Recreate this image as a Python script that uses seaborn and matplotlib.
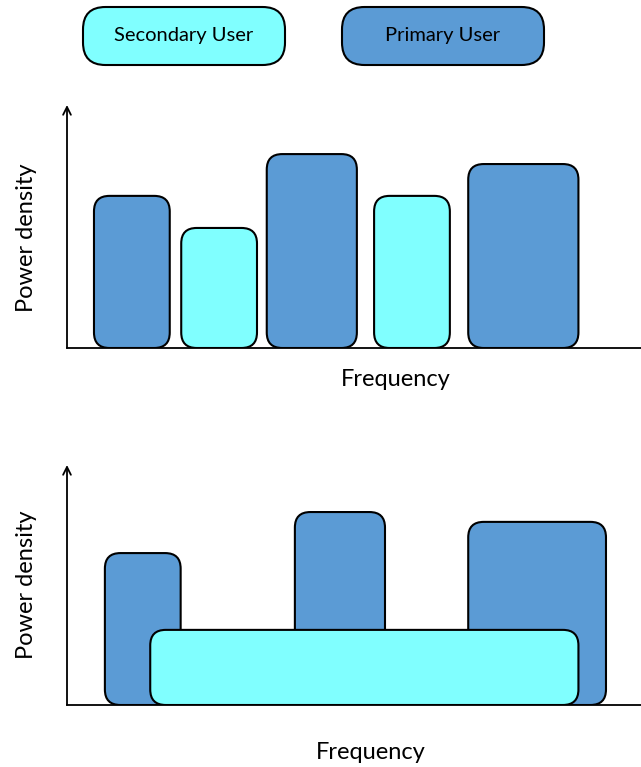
import matplotlib
matplotlib.use("Agg")
import matplotlib.pyplot as plt
import seaborn as sns
from matplotlib.patches import FancyBboxPatch

# Data: (frequency start, width, power density) per user block
PRIMARY_COLOR = "#5B9BD5"
SECONDARY_COLOR = "#80FFFF"

legend_labels = ["Secondary User", "Primary User"]

# top panel: users side by side
top_users = ["primary", "secondary", "primary", "secondary", "primary"]
top_start = [4.7, 19.9, 34.8, 53.5, 69.9]
top_width = [13.2, 13.2, 15.7, 13.2, 19.2]
top_power = [62.6, 49.4, 79.8, 62.6, 75.7]

# bottom panel: secondary user spread underneath primary users
bottom_users = ["primary", "primary", "primary", "secondary"]
bottom_start = [6.6, 39.7, 69.9, 14.5]
bottom_width = [13.2, 15.7, 24.0, 74.6]
bottom_power = [63.3, 80.4, 76.3, 31.3]

x_label = "Frequency"
y_label = "Power density"

sns.set_style("white")
plt.rcParams["font.family"] = ["Lato", "DejaVu Sans"]
plt.rcParams["text.color"] = "black"
plt.rcParams["axes.labelcolor"] = "black"

W, H = 641, 767
fig = plt.figure(figsize=(W / 100, H / 100), dpi=100)


def draw_panel(ax, users, starts, widths, powers, xlab_pos, ylab_pos):
    ax.set_xlim(0, 100)
    ax.set_ylim(0, 100)
    bbox = ax.get_position()
    px_x = bbox.width * W / 100
    px_y = bbox.height * H / 100
    aspect = px_x / px_y
    for u, s, w, p in zip(users, starts, widths, powers):
        color = PRIMARY_COLOR if u == "primary" else SECONDARY_COLOR
        patch = FancyBboxPatch((s, 0), w, p,
                               boxstyle="round,pad=0,rounding_size=2.7",
                               mutation_aspect=aspect,
                               facecolor=color, edgecolor="black", linewidth=1.5,
                               zorder=3)
        ax.add_patch(patch)
    sns.despine(ax=ax, top=True, right=True)
    ax.spines["bottom"].set_linewidth(1.3)
    ax.spines["bottom"].set_color("black")
    ax.spines["left"].set_visible(False)
    ax.annotate("", xy=(0, 1.0), xytext=(0, 0), xycoords="axes fraction",
                arrowprops=dict(arrowstyle="->", color="black", lw=1.3,
                                mutation_scale=14, shrinkA=0, shrinkB=0))
    ax.set_xticks([])
    ax.set_yticks([])
    ax.set_xlabel(x_label, fontsize=17)
    ax.set_ylabel(y_label, fontsize=17)
    ax.xaxis.set_label_coords(*xlab_pos)
    ax.yaxis.set_label_coords(*ylab_pos)
    ax.patch.set_alpha(0)


ax_top = fig.add_axes([67 / W, (H - 348) / H, (W - 67) / W, 243 / H])
draw_panel(ax_top, top_users, top_start, top_width, top_power,
           (0.573, -0.085), (-0.053, 0.453))

ax_bot = fig.add_axes([67 / W, (H - 705) / H, (W - 67) / W, 240 / H])
draw_panel(ax_bot, bottom_users, bottom_start, bottom_width, bottom_power,
           (0.53, -0.155), (-0.053, 0.5))

# legend boxes across the top
legend_colors = [SECONDARY_COLOR, PRIMARY_COLOR]
legend_x = [83, 342]
for lab, col, lx in zip(legend_labels, legend_colors, legend_x):
    box = FancyBboxPatch((lx / W, (H - 65) / H), 202 / W, 58 / H,
                         boxstyle="round,pad=0,rounding_size=0.035",
                         mutation_aspect=W / H,
                         transform=fig.transFigure,
                         facecolor=col, edgecolor="black", linewidth=1.5)
    fig.patches.append(box)
    fig.text((lx + 101) / W, (H - 36) / H, lab, ha="center", va="center",
             fontsize=14.5)

fig.savefig("out.png", dpi=100)
